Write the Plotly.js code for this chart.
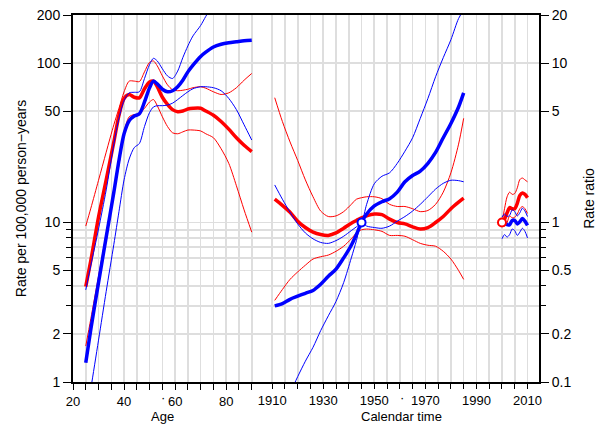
<!DOCTYPE html>
<html>
<head>
<meta charset="utf-8">
<script src="https://cdn.plot.ly/plotly-3.0.1.min.js"></script>
<style>
html,body{margin:0;padding:0;background:#ffffff;}
#chart{width:597px;height:425px;}
</style>
</head>
<body>
<div id="chart"></div>
<script>
// ---------- Age effects (rate per 100,000 person-years, left axis) ----------
const ageYears   = [25, 27, 30, 33, 36, 38, 40, 42, 44, 46, 48, 50, 51.5, 53, 55, 57, 59, 61, 63, 65, 67, 70, 72, 75, 78, 81, 84, 87, 90];
const ageBlue    = [1.32, 2.15, 4.2, 8.1, 15.5, 24.5, 36, 43.5, 46.5, 48, 57, 70, 77, 74, 68.5, 66, 67, 71, 78, 88, 97, 110, 117, 126, 131, 134, 136, 138, 139];
const ageBlueHi  = [3.78, 5.4, 9.1, 16, 31, 45, 58, 65, 65.5, 66, 80, 98, 107, 103, 92, 83, 80, 89, 108, 128, 148, 172, 196, 235, 280, 330, 390, 460, 540];
const ageBlueLo  = [0.57, 0.91, 1.83, 3.7, 7.3, 11.7, 18.5, 25, 29.5, 31.3, 40, 49, 53, 54, 54, 54.5, 56, 59, 62.5, 66, 69, 71, 71, 70, 67, 60, 51, 41, 32.9];
const ageRed     = [3.96, 5.8, 10.8, 18.5, 32, 47, 60, 63.5, 61, 60.5, 69, 76, 77, 71, 61, 55, 51, 49.5, 50, 51.5, 52, 52, 50, 47, 43, 38.5, 34, 30.5, 27.8];
const ageRedHi   = [9.5, 12.3, 18.4, 27.6, 41, 52, 66, 77, 77, 76.5, 88, 101, 103, 96, 83, 73, 68, 67, 67.5, 68.5, 70, 71, 69.5, 66, 63.5, 65, 70, 78, 86];
const ageRedLo   = [1.68, 2.5, 4.6, 8.5, 15.5, 23, 37, 46, 47.5, 48, 52, 57, 59, 54, 46, 40, 36.5, 36, 37, 38, 38, 37.5, 36, 34, 29, 23.5, 17, 12, 8.7];

// ---------- Cohort effects (rate ratio, right axis) ----------
const cohYears   = [1911, 1914, 1917, 1920, 1923, 1926, 1929, 1932, 1935, 1938, 1941, 1943, 1945, 1947, 1950, 1953, 1956, 1959, 1962, 1965, 1968, 1971, 1974, 1977, 1980, 1983, 1985];
const cohRed     = [1.40, 1.28, 1.16, 1.02, 0.93, 0.87, 0.84, 0.83, 0.86, 0.92, 0.99, 1.03, 1.07, 1.10, 1.13, 1.12, 1.05, 1.00, 0.98, 0.94, 0.91, 0.93, 1.00, 1.09, 1.22, 1.34, 1.42];
const cohRedHi   = [6.06, 4.3, 3.2, 2.45, 1.85, 1.45, 1.18, 1.09, 1.10, 1.17, 1.30, 1.40, 1.43, 1.45, 1.45, 1.41, 1.30, 1.26, 1.26, 1.22, 1.17, 1.19, 1.30, 1.55, 2.05, 3.1, 4.5];
const cohRedLo   = [0.325, 0.38, 0.44, 0.49, 0.54, 0.59, 0.61, 0.625, 0.66, 0.71, 0.79, 0.86, 0.90, 0.91, 0.90, 0.88, 0.83, 0.83, 0.82, 0.78, 0.74, 0.72, 0.71, 0.66, 0.59, 0.50, 0.44];
const cohBlue    = [0.30, 0.31, 0.33, 0.345, 0.36, 0.375, 0.41, 0.46, 0.51, 0.60, 0.72, 0.84, 1.00, 1.13, 1.27, 1.35, 1.41, 1.55, 1.80, 1.97, 2.10, 2.35, 2.75, 3.4, 4.18, 5.3, 6.5];
const cohBlueHi  = [1.72, 1.40, 1.16, 0.98, 0.86, 0.79, 0.75, 0.74, 0.77, 0.82, 0.89, 0.94, 1.00, 1.30, 1.75, 1.95, 2.05, 2.35, 2.8, 3.4, 4.5, 6.0, 8.2, 10.8, 14, 19, 21.5];
const cohBlueLo  = [0.052, 0.065, 0.085, 0.108, 0.135, 0.165, 0.21, 0.26, 0.32, 0.42, 0.60, 0.77, 1.00, 0.95, 0.93, 0.92, 0.95, 1.02, 1.09, 1.18, 1.30, 1.45, 1.62, 1.76, 1.84, 1.83, 1.80];
const cohRefYear = [1945];
const cohRefRR   = [1];

// ---------- Period effects (rate ratio, right axis) ----------
const perYears   = [2000, 2001, 2002, 2003, 2004, 2005, 2006, 2007, 2008, 2009, 2010];
const perRed     = [1.00, 1.05, 1.15, 1.24, 1.22, 1.22, 1.32, 1.48, 1.53, 1.50, 1.43];
const perRedHi   = [1.00, 1.22, 1.45, 1.55, 1.50, 1.52, 1.65, 1.86, 1.90, 1.85, 1.80];
const perRedLo   = [1.00, 0.95, 1.00, 1.10, 1.07, 1.08, 1.13, 1.22, 1.26, 1.22, 1.14];
const perBlue    = [0.99, 1.00, 0.97, 0.97, 1.03, 1.03, 0.98, 1.01, 1.06, 1.02, 0.96];
const perBlueHi  = [1.08, 1.13, 1.09, 1.11, 1.20, 1.17, 1.10, 1.15, 1.23, 1.18, 1.09];
const perBlueLo  = [0.79, 0.84, 0.81, 0.84, 0.91, 0.89, 0.83, 0.87, 0.92, 0.88, 0.80];
const perRefYear = [2000];
const perRefRR   = [1];

// ---------- Axis ticks ----------
const ageTicks   = [20, 25, 30, 35, 40, 45, 50, 55, 60, 65, 70, 75, 80, 85, 90];
const ageLabels  = ['20', '', '', '', '40', '', '', '', '60', '', '', '', '80', '', ''];
const calTicks   = [1910, 1915, 1920, 1925, 1930, 1935, 1940, 1945, 1950, 1955, 1960, 1965, 1970, 1975, 1980, 1985, 1990, 1995, 2000, 2005, 2010];
const calLabels  = ['1910', '', '', '', '1930', '', '', '', '1950', '', '', '', '1970', '', '', '', '1990', '', '', '', '2010'];
const rateTicks  = [1, 2, 5, 10, 50, 100, 200];
const rateMinor  = [3, 4, 6, 7, 8, 9];
const rateGrid   = [1.5, 15, 20, 30, 40, 60, 70, 80, 90, 150];
const rrTicks    = [0.1, 0.2, 0.5, 1, 5, 10, 20];
const rrMinor    = [0.3, 0.4, 0.6, 0.7, 0.8, 0.9];
const refLineX   = [1910, 2014.5];
const refLineY   = 1;

const RED = '#ff0000', BLUE = '#0000ff';
const FONT = 'Liberation Sans, Arial, Helvetica, sans-serif';

function ln(x, y, color, width, xa, ya) {
  return {x: x, y: y, type: 'scatter', mode: 'lines', xaxis: xa, yaxis: ya,
          line: {color: color, width: width, shape: 'spline', smoothing: 0.8},
          hoverinfo: 'skip', showlegend: false, cliponaxis: true};
}
function refpt(x, y, color) {
  return {x: x, y: y, type: 'scatter', mode: 'markers', xaxis: 'x2', yaxis: 'y2',
          marker: {symbol: 'circle', size: 8, color: '#ffffff', line: {color: color, width: 2}},
          hoverinfo: 'skip', showlegend: false};
}

const traces = [
  // age
  ln(ageYears, ageRedHi, RED, 1, 'x', 'y'),
  ln(ageYears, ageRedLo, RED, 1, 'x', 'y'),
  ln(ageYears, ageRed, RED, 3.5, 'x', 'y'),
  ln(ageYears, ageBlueHi, BLUE, 1, 'x', 'y'),
  ln(ageYears, ageBlueLo, BLUE, 1, 'x', 'y'),
  ln(ageYears, ageBlue, BLUE, 3.5, 'x', 'y'),
  // cohort
  ln(cohYears, cohRedHi, RED, 1, 'x2', 'y2'),
  ln(cohYears, cohRedLo, RED, 1, 'x2', 'y2'),
  ln(cohYears, cohRed, RED, 3.5, 'x2', 'y2'),
  ln(cohYears, cohBlueHi, BLUE, 1, 'x2', 'y2'),
  ln(cohYears, cohBlueLo, BLUE, 1, 'x2', 'y2'),
  ln(cohYears, cohBlue, BLUE, 3.5, 'x2', 'y2'),
  // period
  ln(perYears, perRedHi, RED, 1, 'x2', 'y2'),
  ln(perYears, perRedLo, RED, 1, 'x2', 'y2'),
  ln(perYears, perRed, RED, 3.5, 'x2', 'y2'),
  ln(perYears, perBlueHi, BLUE, 1, 'x2', 'y2'),
  ln(perYears, perBlueLo, BLUE, 1, 'x2', 'y2'),
  ln(perYears, perBlue, BLUE, 3.5, 'x2', 'y2'),
  refpt(cohRefYear, cohRefRR, BLUE),
  refpt(perRefYear, perRefRR, RED)
];

const GRID = '#dedede';
const tickFont = {family: FONT, size: 14, color: '#000000'};
const xTickFont = {family: FONT, size: 13, color: '#000000'};
const titleFont = {family: FONT, size: 13, color: '#000000'};

const layout = {
  width: 597, height: 425,
  margin: {l: 73, r: 58, t: 15, b: 43, pad: 0},
  paper_bgcolor: '#ffffff', plot_bgcolor: '#ffffff',
  font: {family: FONT, size: 14, color: '#000000'},
  showlegend: false,
  xaxis: {
    range: [20, 202.5], tickmode: 'array', tickvals: ageTicks, ticktext: ageLabels,
    ticks: 'outside', ticklen: 6, tickwidth: 1, tickcolor: '#000000',
    showgrid: true, gridcolor: GRID, gridwidth: 1.6, zeroline: false,
    showline: true, linecolor: '#000000', linewidth: 2, mirror: true,
    tickfont: xTickFont, fixedrange: true
  },
  xaxis2: {
    overlaying: 'x', anchor: 'y', side: 'bottom',
    range: [1832, 2014.5], tickmode: 'array', tickvals: calTicks, ticktext: calLabels,
    ticks: 'outside', ticklen: 6, tickwidth: 1, tickcolor: '#000000',
    showgrid: true, gridcolor: GRID, gridwidth: 1.6, zeroline: false,
    showline: false, tickfont: xTickFont, fixedrange: true
  },
  yaxis: {
    type: 'log', range: [0, Math.log10(200)],
    tickmode: 'array', tickvals: rateTicks, ticktext: rateTicks.map(String),
    ticks: 'outside', ticklen: 8, tickwidth: 1, tickcolor: '#000000',
    minor: {tickmode: 'array', tickvals: rateMinor, ticks: 'outside', ticklen: 5, tickwidth: 1, tickcolor: '#000000', showgrid: true, gridcolor: GRID, gridwidth: 1.6},
    showgrid: true, gridcolor: GRID, gridwidth: 1.6, zeroline: false,
    showline: true, linecolor: '#000000', linewidth: 2, mirror: true,
    tickfont: tickFont, fixedrange: true,
    title: {text: 'Rate per 100,000 person\u2212years', font: {family: FONT, size: 14, color: '#000000'}, standoff: 7}
  },
  yaxis3: {
    type: 'log', range: [0, Math.log10(200)], overlaying: 'y', anchor: 'x', side: 'left',
    tickmode: 'array', tickvals: rateGrid, showticklabels: false, ticks: '',
    showgrid: true, gridcolor: GRID, gridwidth: 1.6, zeroline: false, showline: false, fixedrange: true
  },
  yaxis2: {
    type: 'log', range: [-1, Math.log10(20)], overlaying: 'y', anchor: 'x2', side: 'right',
    tickmode: 'array', tickvals: rrTicks, ticktext: rrTicks.map(String),
    ticks: 'outside', ticklen: 8, tickwidth: 1, tickcolor: '#000000',
    minor: {tickmode: 'array', tickvals: rrMinor, ticks: 'outside', ticklen: 5, tickwidth: 1, tickcolor: '#000000', showgrid: false},
    showgrid: false, zeroline: false,
    showline: true, linecolor: '#000000', linewidth: 2,
    tickfont: tickFont, fixedrange: true,
    title: {text: 'Rate ratio', font: {family: FONT, size: 14, color: '#000000'}, standoff: 14}
  },
  shapes: [{
    type: 'line', xref: 'x2', yref: 'y2', layer: 'below',
    x0: refLineX[0], x1: refLineX[1], y0: refLineY, y1: refLineY,
    line: {color: '#333333', width: 1.2}
  }],
  annotations: [
    {text: 'Age', xref: 'paper', yref: 'paper', x: (162.5 - 73) / 466, y: (382 - 425) / 367,
     xanchor: 'center', yanchor: 'bottom', borderpad: 0, showarrow: false, font: titleFont},
    {text: 'Calendar time', xref: 'paper', yref: 'paper', x: (401 - 73) / 466, y: (382 - 425) / 367,
     xanchor: 'center', yanchor: 'bottom', borderpad: 0, showarrow: false, font: titleFont},
    {text: '\u00b7', xref: 'paper', yref: 'paper', x: (163 - 73) / 466, y: (382 - 397) / 367,
     xanchor: 'center', yanchor: 'middle', borderpad: 0, showarrow: false, font: xTickFont},
    {text: '\u00b7', xref: 'paper', yref: 'paper', x: (402 - 73) / 466, y: (382 - 397) / 367,
     xanchor: 'center', yanchor: 'middle', borderpad: 0, showarrow: false, font: xTickFont}
  ]
};

Plotly.newPlot('chart', traces, layout, {displayModeBar: false, staticPlot: true});
</script>
</body>
</html>
